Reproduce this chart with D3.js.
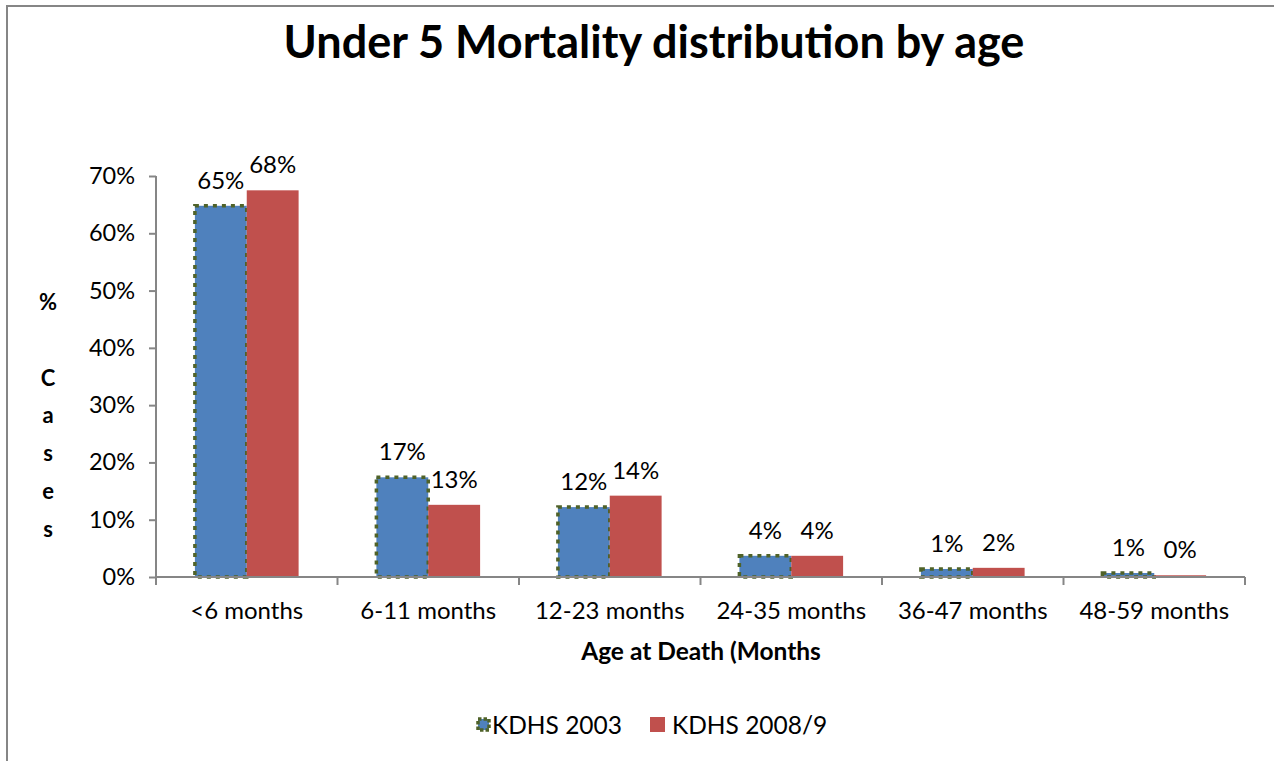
<!DOCTYPE html>
<html><head><meta charset="utf-8">
<script src="https://cdn.jsdelivr.net/npm/d3@7"></script>
<style>body{margin:0;background:#fff}svg{display:block}text{font-family:Lato,"Open Sans",sans-serif;fill:#000}</style>
</head><body><svg id="c" width="1274" height="761"></svg>
<script>
const categories = ["<6 months","6-11 months","12-23 months","24-35 months","36-47 months","48-59 months"];
const seriesNames = ["KDHS 2003","KDHS 2008/9"];
const kdhs2003 = [64.8, 17.4, 12.2, 3.7, 1.4, 0.7];
const kdhs2008 = [67.5, 12.6, 14.2, 3.7, 1.6, 0.3];
const yTicks = [0,10,20,30,40,50,60,70];
const titleText = "Under 5 Mortality distribution by age";
const xTitle = "Age at Death (Months";
const yTitleChars = ["%"," ","C","a","s","e","s"];

const colors = {"KDHS 2003":"#4F81BD","KDHS 2008/9":"#C0504D"};
const borderColor = "#4F6228";
const axisColor = "#868686";
const svg = d3.select("#c");

// chart border
svg.append("rect").attr("x",7).attr("y",6).attr("width",1300).attr("height",800)
  .attr("fill","none").attr("stroke",axisColor).attr("stroke-width",2);

const pLeft=156, pRight=1245, pTop=176, pBottom=577;
const x = d3.scaleBand().domain(categories).range([pLeft,pRight]).paddingInner(0).paddingOuter(0);
const xs = d3.scaleBand().domain(seriesNames).range([0,x.bandwidth()]).paddingInner(0).paddingOuter(0.75);
const y = d3.scaleLinear().domain([0,70]).range([pBottom,pTop]);

// title
svg.append("text").attr("x",654).attr("y",58).attr("text-anchor","middle")
  .style("font-weight","bold").style("font-size","45px").text(titleText);

// y axis
const ya = svg.append("g").attr("transform",`translate(${pLeft},0)`)
  .call(d3.axisLeft(y).tickValues(yTicks).tickFormat(d=>d+"%").tickSizeOuter(0).tickSize(7).tickPadding(14));
ya.select(".domain").remove();
ya.selectAll(".tick line").attr("stroke",axisColor).attr("stroke-width",2);
ya.selectAll(".tick text").style("font-size","23.5px").style("font-family","Lato,sans-serif").attr("fill","#000");
svg.append("line").attr("x1",pLeft).attr("x2",pLeft).attr("y1",pTop).attr("y2",pBottom+8)
  .attr("stroke",axisColor).attr("stroke-width",2);

// bars
const data = categories.map((c,i)=>({cat:c, vals:[{s:seriesNames[0],v:kdhs2003[i]},{s:seriesNames[1],v:kdhs2008[i]}]}));
const g = svg.append("g");
data.forEach(d=>{
  d.vals.forEach(e=>{
    const bx = x(d.cat)+xs(e.s), bw = xs.bandwidth();
    if(e.s===seriesNames[0]){
      g.append("rect").attr("x",bx).attr("y",y(e.v)).attr("width",bw).attr("height",y(0)-y(e.v))
        .attr("fill",colors[e.s]).attr("stroke",borderColor).attr("stroke-width",3.5).attr("stroke-dasharray","4,5");
    } else {
      g.append("rect").attr("x",bx).attr("y",y(e.v)).attr("width",bw).attr("height",y(0)-y(e.v))
        .attr("fill",colors[e.s]);
    }
    g.append("text").attr("x",bx+bw/2).attr("y",y(e.v)-17).attr("text-anchor","middle")
      .style("font-size","24px").text(Math.round(e.v)+"%");
  });
});

// x axis
svg.append("line").attr("x1",pLeft).attr("x2",pRight).attr("y1",pBottom).attr("y2",pBottom)
  .attr("stroke",axisColor).attr("stroke-width",2);
const bounds = categories.map(c=>x(c)).concat([pRight]);
bounds.slice(1).forEach(b=>{
  svg.append("line").attr("x1",b).attr("x2",b).attr("y1",pBottom).attr("y2",pBottom+8)
    .attr("stroke",axisColor).attr("stroke-width",2);
});
categories.forEach(c=>{
  svg.append("text").attr("x",x(c)+x.bandwidth()/2).attr("y",619).attr("text-anchor","middle")
    .style("font-size","24px").text(c);
});
svg.append("text").attr("x",701).attr("y",660).attr("text-anchor","middle")
  .style("font-weight","bold").style("font-size","24.5px").text(xTitle);

// y title
yTitleChars.forEach((ch,i)=>{
  svg.append("text").attr("x",48).attr("y",310+i*37.8).attr("text-anchor","middle")
    .style("font-weight","bold").style("font-size","22px").text(ch);
});

// legend
const lg = svg.append("g");
lg.append("rect").attr("x",478).attr("y",719).attr("width",11).attr("height",11)
  .attr("fill",colors[seriesNames[0]]).attr("stroke",borderColor).attr("stroke-width",3.5).attr("stroke-dasharray","3.5,2");
lg.append("text").attr("x",492).attr("y",734).style("font-size","24.5px").text(seriesNames[0]);
lg.append("rect").attr("x",650).attr("y",717).attr("width",15).attr("height",15).attr("fill",colors[seriesNames[1]]);
lg.append("text").attr("x",672).attr("y",734).style("font-size","24.5px").text(seriesNames[1]);
</script></body></html>
